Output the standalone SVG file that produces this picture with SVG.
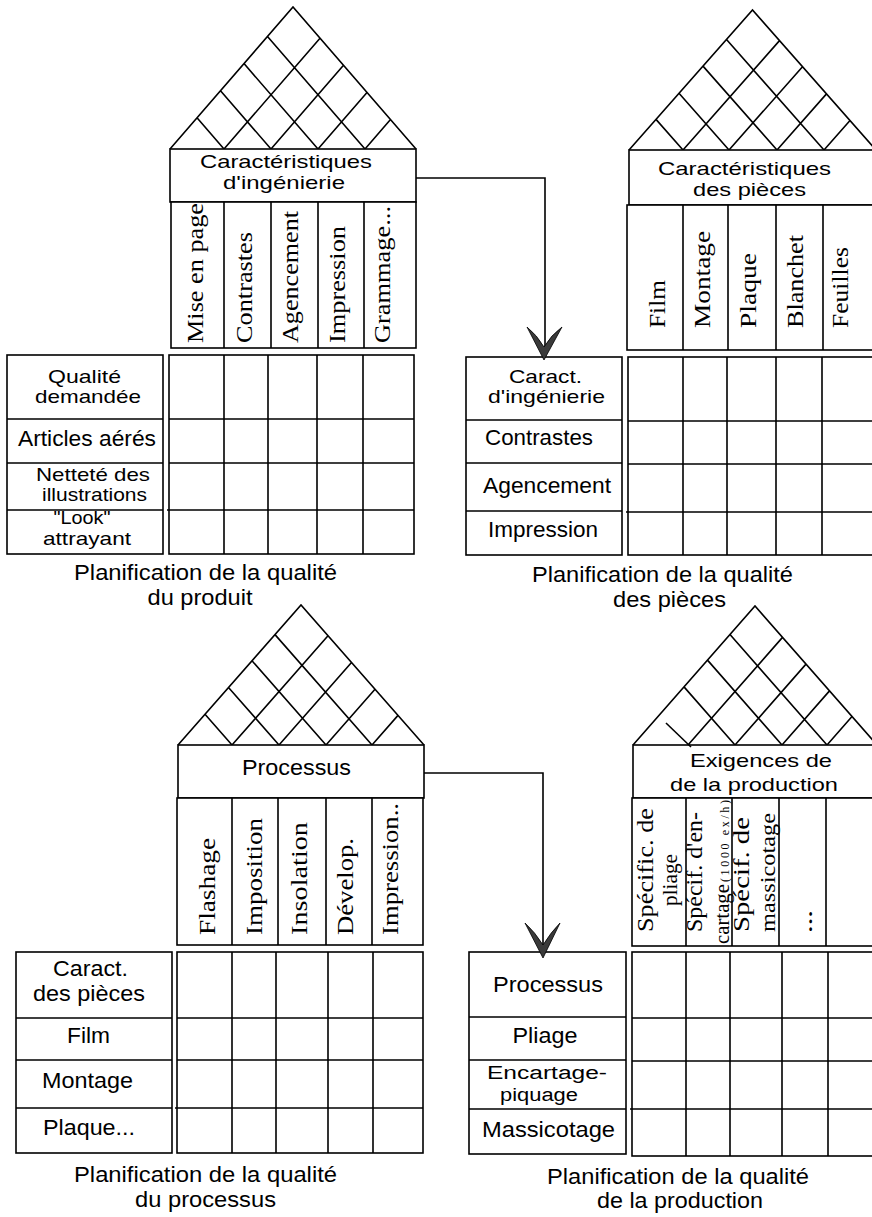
<svg xmlns="http://www.w3.org/2000/svg" width="872" height="1217" viewBox="0 0 872 1217">
<style>
.ln{stroke:#000;stroke-width:1.6;fill:none}
.bx{fill:#fff;stroke:#000;stroke-width:1.6}
.s{font-family:"Liberation Sans",Arial,sans-serif;font-size:22px;fill:#000;text-anchor:middle}
.t{font-size:19px}
.f{font-family:"Liberation Serif","Times New Roman",serif;font-size:24px;fill:#000}
.ah{fill:#3a3a3a;stroke:#000;stroke-width:0.8}
</style>
<rect width="872" height="1217" fill="#fff"/>

<g id="house-produit">
<path class="ln" d="M170,149 L293,7 L416,149 M224,149 L320,38.2 M224,149 L197,117.8 M271,149 L343.5,65.3 M271,149 L220.5,90.7 M318,149 L367,92.4 M318,149 L244,63.6 M365,149 L390.5,119.6 M365,149 L267.5,36.4"/>
<rect class="bx" x="170" y="149" width="246" height="53"/>
<text class="s t" x="286" y="168" textLength="172" lengthAdjust="spacingAndGlyphs">Caractéristiques</text>
<text class="s t" x="284" y="189" textLength="122" lengthAdjust="spacingAndGlyphs">d'ingénierie</text>
<rect class="bx" x="171" y="202" width="245" height="146"/>
<path class="ln" d="M224,202 V348 M271,202 V348 M318,202 V348 M364,202 V348"/>
<text class="f" transform="translate(203,343) rotate(-90)" textLength="140" lengthAdjust="spacingAndGlyphs">Mise en page</text>
<text class="f" transform="translate(252,343) rotate(-90)" textLength="111" lengthAdjust="spacingAndGlyphs">Contrastes</text>
<text class="f" transform="translate(298,343) rotate(-90)" textLength="132" lengthAdjust="spacingAndGlyphs">Agencement</text>
<text class="f" transform="translate(345,343) rotate(-90)" textLength="117" lengthAdjust="spacingAndGlyphs">Impression</text>
<text class="f" transform="translate(390,343) rotate(-90)" textLength="137" lengthAdjust="spacingAndGlyphs">Grammage...</text>
<rect class="bx" x="7" y="355" width="156" height="199"/>
<path class="ln" d="M7,419 H163 M7,463 H163 M7,510 H163"/>
<text class="s t" x="84.5" y="383" textLength="73" lengthAdjust="spacingAndGlyphs">Qualité</text>
<text class="s t" x="88" y="403" textLength="106" lengthAdjust="spacingAndGlyphs">demandée</text>
<text class="s" x="87" y="446" textLength="138" lengthAdjust="spacingAndGlyphs">Articles aérés</text>
<text class="s t" x="93" y="481" textLength="114" lengthAdjust="spacingAndGlyphs">Netteté des</text>
<text class="s t" x="94.5" y="501" textLength="105" lengthAdjust="spacingAndGlyphs">illustrations</text>
<text class="s t" x="82" y="524" textLength="57" lengthAdjust="spacingAndGlyphs">"Look"</text>
<text class="s t" x="87" y="545" textLength="88" lengthAdjust="spacingAndGlyphs">attrayant</text>
<rect class="bx" x="169" y="355" width="245" height="199"/>
<path class="ln" d="M224,355 V554 M268,355 V554 M317,355 V554 M363,355 V554 M169,419 H414 M169,463 H414 M167,510 H414"/>
<text class="s" x="205.5" y="580" textLength="263" lengthAdjust="spacingAndGlyphs">Planification de la qualité</text>
<text class="s" x="200" y="605" textLength="105" lengthAdjust="spacingAndGlyphs">du produit</text>
</g>

<g id="house-pieces">
<path class="ln" d="M629,150 L752.5,10 L876,150 M683,150 L779.5,40.6 M683,150 L656,119.4 M729,150 L802.5,66.7 M729,150 L679,93.3 M777,150 L826.5,93.9 M777,150 L703,66.1 M824,150 L850,120.5 M824,150 L726.5,39.5"/>
<rect class="bx" x="629" y="150" width="252" height="55"/>
<text class="s t" x="744.5" y="175" textLength="173" lengthAdjust="spacingAndGlyphs">Caractéristiques</text>
<text class="s t" x="749.5" y="196" textLength="113" lengthAdjust="spacingAndGlyphs">des pièces</text>
<rect class="bx" x="627" y="205" width="254" height="145"/>
<path class="ln" d="M683,205 V350 M728,205 V350 M776,205 V350 M823,205 V350"/>
<text class="f" transform="translate(665,328) rotate(-90)" textLength="48" lengthAdjust="spacingAndGlyphs">Film</text>
<text class="f" transform="translate(710,328) rotate(-90)" textLength="97" lengthAdjust="spacingAndGlyphs">Montage</text>
<text class="f" transform="translate(756,328) rotate(-90)" textLength="75" lengthAdjust="spacingAndGlyphs">Plaque</text>
<text class="f" transform="translate(803,328) rotate(-90)" textLength="93" lengthAdjust="spacingAndGlyphs">Blanchet</text>
<text class="f" transform="translate(848,328) rotate(-90)" textLength="81" lengthAdjust="spacingAndGlyphs">Feuilles</text>
<rect class="bx" x="466" y="357" width="156" height="198"/>
<path class="ln" d="M466,420 H622 M466,463 H622 M466,511 H622"/>
<text class="s t" x="545.5" y="383" textLength="73" lengthAdjust="spacingAndGlyphs">Caract.</text>
<text class="s t" x="546.5" y="403" textLength="117" lengthAdjust="spacingAndGlyphs">d'ingénierie</text>
<text class="s" x="539" y="445" textLength="108" lengthAdjust="spacingAndGlyphs">Contrastes</text>
<text class="s" x="547" y="493" textLength="128" lengthAdjust="spacingAndGlyphs">Agencement</text>
<text class="s" x="543" y="537" textLength="110" lengthAdjust="spacingAndGlyphs">Impression</text>
<rect class="bx" x="628" y="357" width="253" height="198"/>
<path class="ln" d="M683,357 V555 M727,357 V555 M776,357 V555 M822,357 V555 M628,421 H881 M628,464 H881 M626,512 H881"/>
<text class="s" x="662.5" y="582" textLength="261" lengthAdjust="spacingAndGlyphs">Planification de la qualité</text>
<text class="s" x="669.5" y="607" textLength="113" lengthAdjust="spacingAndGlyphs">des pièces</text>
</g>

<g id="house-processus">
<path class="ln" d="M178,745 L301,605 L424,745 M232,745 L328,635.7 M232,745 L205,714.3 M279,745 L351.5,662.5 M279,745 L228.5,687.5 M326,745 L375,689.2 M326,745 L252,660.8 M372,745 L398,715.4 M372,745 L275,634.6"/>
<rect class="bx" x="178" y="745" width="246" height="53"/>
<text class="s" x="296.5" y="775" textLength="109" lengthAdjust="spacingAndGlyphs">Processus</text>
<rect class="bx" x="177" y="798" width="246" height="147"/>
<path class="ln" d="M232,798 V945 M278,798 V945 M326,798 V945 M372,798 V945"/>
<text class="f" transform="translate(215,935) rotate(-90)" textLength="97" lengthAdjust="spacingAndGlyphs">Flashage</text>
<text class="f" transform="translate(262,935) rotate(-90)" textLength="117" lengthAdjust="spacingAndGlyphs">Imposition</text>
<text class="f" transform="translate(307,935) rotate(-90)" textLength="113" lengthAdjust="spacingAndGlyphs">Insolation</text>
<text class="f" transform="translate(353,935) rotate(-90)" textLength="97" lengthAdjust="spacingAndGlyphs">Dévelop.</text>
<text class="f" transform="translate(398,935) rotate(-90)" textLength="132" lengthAdjust="spacingAndGlyphs">Impression..</text>
<rect class="bx" x="16" y="952" width="156" height="201"/>
<path class="ln" d="M16,1018 H172 M16,1060 H172 M16,1108 H172"/>
<text class="s" x="90.5" y="976" textLength="75" lengthAdjust="spacingAndGlyphs">Caract.</text>
<text class="s" x="89" y="1001" textLength="112" lengthAdjust="spacingAndGlyphs">des pièces</text>
<text class="s" x="88.5" y="1043" textLength="43" lengthAdjust="spacingAndGlyphs">Film</text>
<text class="s" x="87.5" y="1088" textLength="91" lengthAdjust="spacingAndGlyphs">Montage</text>
<text class="s" x="89" y="1135" textLength="92" lengthAdjust="spacingAndGlyphs">Plaque...</text>
<rect class="bx" x="177" y="952" width="246" height="201"/>
<path class="ln" d="M232,952 V1153 M276,952 V1153 M328,952 V1153 M373,952 V1153 M177,1018 H423 M177,1060 H423 M175,1108 H423"/>
<text class="s" x="205.5" y="1182" textLength="263" lengthAdjust="spacingAndGlyphs">Planification de la qualité</text>
<text class="s" x="205.5" y="1207" textLength="141" lengthAdjust="spacingAndGlyphs">du processus</text>
</g>

<g id="house-production">
<path class="ln" d="M633,745 L755,606 L877,745 M688,745 L782.5,637.4 M735,745 L806,664.1 M735,745 L684,686.9 M782,745 L829.5,690.9 M782,745 L707.5,660.1 M827,745 L852,716.5 M827,745 L730,634.5"/>
<rect class="bx" x="633" y="745" width="248" height="53"/>
<path class="ln" d="M666,723 L691,747"/>
<text class="s t" x="761" y="767" textLength="142" lengthAdjust="spacingAndGlyphs">Exigences de</text>
<text class="s t" x="754" y="791" textLength="168" lengthAdjust="spacingAndGlyphs">de la production</text>
<rect class="bx" x="632" y="798" width="249" height="148"/>
<path class="ln" d="M686,798 V946 M732,798 V946 M779,798 V946 M826,798 V946"/>
<text class="f" transform="translate(653,932) rotate(-90)" textLength="124" lengthAdjust="spacingAndGlyphs">Spécific. de</text>
<text class="f" transform="translate(677,880) rotate(-90)" style="font-size:21px" text-anchor="middle" textLength="52" lengthAdjust="spacingAndGlyphs">pliage</text>
<text class="f" transform="translate(702,932) rotate(-90)" textLength="120" lengthAdjust="spacingAndGlyphs">Spécif. d'en-</text>
<text class="f" transform="translate(729,944) rotate(-90)" style="font-size:21px" textLength="60" lengthAdjust="spacingAndGlyphs">cartage</text>
<text class="f" transform="translate(729,882) rotate(-90)" style="font-size:12px" textLength="82" lengthAdjust="spacing">(1000 ex/h)</text>
<text class="f" transform="translate(749,932) rotate(-90)" textLength="115" lengthAdjust="spacingAndGlyphs">Spécif. de</text>
<text class="f" transform="translate(775,932) rotate(-90)" style="font-size:21px" textLength="119" lengthAdjust="spacingAndGlyphs">massicotage</text>
<text class="f" transform="translate(812,933) rotate(-90)" textLength="23" lengthAdjust="spacingAndGlyphs">...</text>
<rect class="bx" x="469" y="952" width="157" height="202"/>
<path class="ln" d="M469,1017 H626 M469,1060 H626 M469,1109 H626"/>
<text class="s" x="548" y="992" textLength="110" lengthAdjust="spacingAndGlyphs">Processus</text>
<text class="s" x="545" y="1043" textLength="65" lengthAdjust="spacingAndGlyphs">Pliage</text>
<text class="s" x="547" y="1079" style="font-size:18px" textLength="120" lengthAdjust="spacingAndGlyphs">Encartage-</text>
<text class="s" x="539" y="1101" style="font-size:18px" textLength="78" lengthAdjust="spacingAndGlyphs">piquage</text>
<text class="s" x="548.5" y="1137" textLength="133" lengthAdjust="spacingAndGlyphs">Massicotage</text>
<rect class="bx" x="632" y="952" width="249" height="204"/>
<path class="ln" d="M686,952 V1156 M730,952 V1156 M782,952 V1156 M828,952 V1156 M632,1018 H881 M632,1061 H881 M630,1109 H881"/>
<text class="s" x="678" y="1184" textLength="262" lengthAdjust="spacingAndGlyphs">Planification de la qualité</text>
<text class="s" x="680" y="1208" textLength="166" lengthAdjust="spacingAndGlyphs">de la production</text>
</g>

<g id="connectors">
<path class="ln" d="M416,178 H545 V348"/>
<path class="ah" d="M544,360 L527,327 Q537,335 544,347 Q551,335 562,327 Z"/>
<path class="ln" d="M424,773 H543 V946"/>
<path class="ah" d="M543,958 L525,923 Q535,932 543,945 Q551,932 560,923 Z"/>
</g>
</svg>
